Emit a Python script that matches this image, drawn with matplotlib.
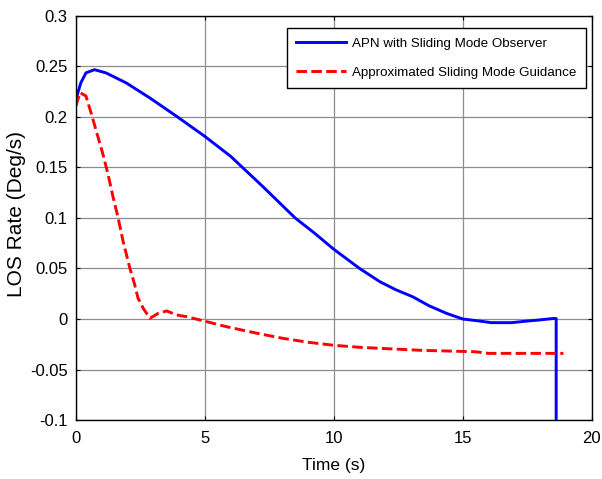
import matplotlib

matplotlib.use("Agg")
import matplotlib.pyplot as plt  # noqa: E402

plt.rcParams["font.family"] = ["Liberation Sans", "DejaVu Sans"]

# LOS rate histories (deg/s) vs time (s)
apn_t = [0, 0.19, 0.39, 0.72, 1.17, 1.96, 2.87, 3.91, 5.0, 6.0, 7.25, 8.5,
         9.25, 10.0, 11.0, 11.78, 12.4, 13.06, 13.7, 14.37, 15.0, 15.65,
         16.1, 16.9, 17.5, 17.95, 18.5, 18.62, 18.62]
apn_y = [0.217, 0.2335, 0.2435, 0.2467, 0.2435, 0.2335, 0.2187, 0.2005,
         0.1807, 0.161, 0.131, 0.100, 0.085, 0.069, 0.050, 0.037, 0.029,
         0.022, 0.013, 0.0056, 0.0, -0.002, -0.0036, -0.0036, -0.002,
         -0.001, 0.0005, 0.0005, -0.12]

smg_t = [0, 0.16, 0.39, 0.59, 0.78, 1.04, 1.24, 1.44, 1.63, 1.83, 2.09,
         2.28, 2.41, 2.61, 2.87, 3.2, 3.52, 3.91, 4.29, 4.93, 5.84, 7.0,
         8.0, 9.0, 10.0, 11.0, 11.78, 13.4, 15.5, 16.0, 18.9]
smg_y = [0.2107, 0.224, 0.2207, 0.204, 0.187, 0.164, 0.144, 0.121, 0.101,
         0.077, 0.0507, 0.034, 0.0207, 0.0107, 0.0007, 0.0057, 0.008, 0.004,
         0.0023, -0.0017, -0.0076, -0.014, -0.019, -0.023, -0.026, -0.028,
         -0.029, -0.031, -0.0324, -0.034, -0.034]

x_ticks = [0, 5, 10, 15, 20]
y_ticks = [-0.1, -0.05, 0, 0.05, 0.1, 0.15, 0.2, 0.25, 0.3]
y_labels = ["-0.1", "-0.05", "0", "0.05", "0.1", "0.15", "0.2", "0.25", "0.3"]

fig = plt.figure(figsize=(6.02, 4.79), dpi=100)
ax = fig.add_axes([0.126, 0.123, 0.857, 0.844])

ax.plot(apn_t, apn_y, color="#0000ff", lw=2.1,
        label="APN with Sliding Mode Observer")
ax.plot(smg_t, smg_y, color="#ff0000", lw=2.1, ls=(0, (3.6, 1.5)),
        label="Approximated Sliding Mode Guidance")

ax.set_xlim(0, 20)
ax.set_ylim(-0.1, 0.3)
ax.set_xticks(x_ticks)
ax.set_xticklabels([str(v) for v in x_ticks])
ax.set_yticks(y_ticks)
ax.set_yticklabels(y_labels)
ax.grid(True, color="#8c8c8c", lw=0.9)
ax.set_axisbelow(True)
ax.tick_params(direction="in", length=3, width=0.8, top=True, right=True,
               labelsize=12)
ax.tick_params(axis="x", pad=8)
ax.tick_params(axis="y", pad=6)
for s in ax.spines.values():
    s.set_linewidth(1.0)

ax.set_xlabel("Time (s)", fontsize=12.5)
ax.xaxis.set_label_coords(0.5, -0.095)
ax.set_ylabel("LOS Rate (Deg/s)", fontsize=15)
ax.yaxis.set_label_coords(-0.097, 0.51)

leg = ax.legend(loc="upper right", bbox_to_anchor=(0.988, 0.970),
                fontsize=9.6, frameon=True, fancybox=False,
                edgecolor="black", framealpha=1, handlelength=3.75,
                handletextpad=0.45, borderaxespad=0, labelspacing=1.25,
                borderpad=0.7)
leg.get_frame().set_linewidth(1.0)

fig.savefig("out.png", dpi=100)
